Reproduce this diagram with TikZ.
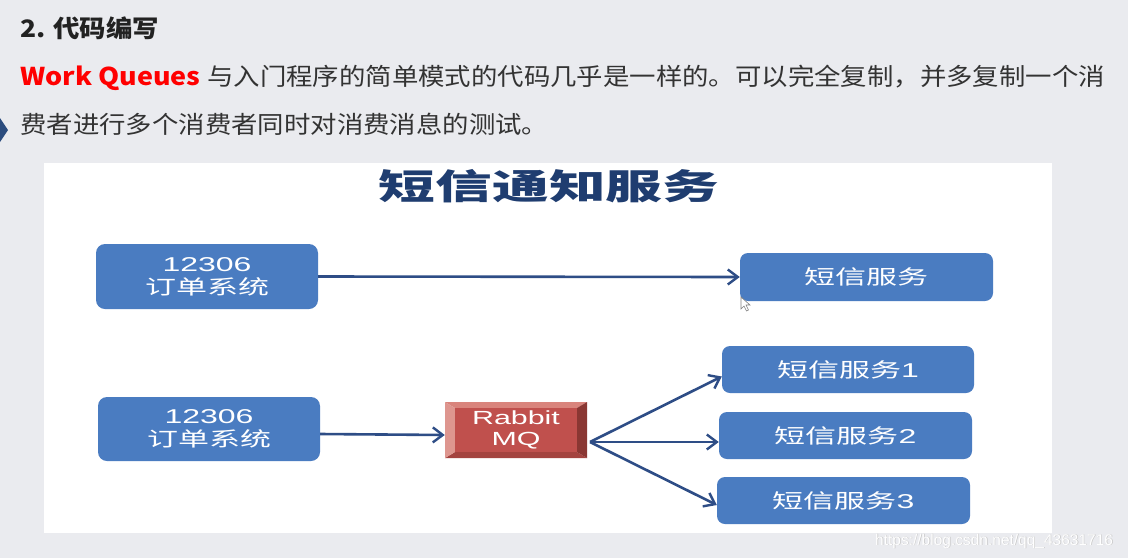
\documentclass[tikz,border=0pt]{standalone}
\usepackage{fontspec}
\usetikzlibrary{arrows.meta}
\newfontfamily\cjkh[FakeStretch=1.1]{Noto Sans CJK SC}
\newfontfamily\cjkd[FakeStretch=1.55]{Noto Sans CJK SC}
\newfontfamily\cjkt[FakeStretch=1.62]{Noto Sans CJK SC}
\newfontfamily\latd[FakeStretch=1.6]{Liberation Sans}
\newfontfamily\wmfont{Liberation Sans}
\definecolor{pagebg}{HTML}{EAEBEF}
\definecolor{boxblue}{HTML}{4A7CC1}
\definecolor{arrowblue}{HTML}{2E4D86}
\definecolor{titleblue}{HTML}{1F3D70}
\definecolor{headtxt}{HTML}{222222}
\definecolor{bodytxt}{HTML}{333333}
\definecolor{mqface}{HTML}{C0504D}
\definecolor{mqtop}{HTML}{D9847C}
\definecolor{mqleft}{HTML}{DE968F}
\definecolor{mqright}{HTML}{8A3733}
\definecolor{mqbottom}{HTML}{A4433F}
\definecolor{marker}{HTML}{2B4C7E}
\tikzset{
  txt/.style={inner sep=0pt, anchor=base west},
  bluebox/.style={fill=boxblue, rounded corners=9pt, text=white, inner sep=0pt, align=center,
    font=\fontsize{20}{23}\selectfont},
  conn/.style={draw=arrowblue, line width=2.6pt, -{Straight Barb[length=10pt,width=15pt,line width=2.4pt]}},
}
\begin{document}
\begin{tikzpicture}[x=1pt,y=-1pt]
\useasboundingbox (0,0) rectangle (1128,558);
\fill[pagebg] (0,0) rectangle (1128,558);
% heading and paragraph
\node[txt, text=headtxt] (h) at (20,37) {\cjkh\fontsize{24}{28}\selectfont\bfseries 2. 代码编写};
\node[txt, text=red] (wq) at (20,85) {\cjkh\fontsize{24.5}{28}\selectfont\bfseries Work Queues};
\node[txt, text=bodytxt] (p1) at (207,85) {\cjkh\fontsize{24}{28}\selectfont 与入门程序的简单模式的代码几乎是一样的。可以完全复制，并多复制一个消};
\node[txt, text=bodytxt] (p2) at (20,133) {\cjkh\fontsize{24}{28}\selectfont 费者进行多个消费者同时对消费消息的测试。};
\fill[marker] (0,118) -- (8,130) -- (0,142) -- cycle;
% white panel
\fill[white] (44,163) rectangle (1052,533);
% title
\node[inner sep=0pt, text=titleblue] (title) at (549,186) {\cjkt\fontsize{35}{40}\selectfont\bfseries 短信通知服务};
% boxes
\node[bluebox, minimum width=222pt, minimum height=65pt] (A1) at (207,276.5)
  {{\latd 12306}\\{\cjkd 订单系统}};
\node[bluebox, minimum width=253pt, minimum height=48pt, rounded corners=8pt] (S0) at (866.5,277)
  {\cjkd 短信服务};
\node[bluebox, minimum width=222pt, minimum height=64pt] (A2) at (209,429)
  {{\latd 12306}\\{\cjkd 订单系统}};
\node[bluebox, minimum width=252pt, minimum height=47pt, rounded corners=8pt] (S1) at (848,369.5)
  {{\cjkd 短信服务}{\latd 1}};
\node[bluebox, minimum width=253pt, minimum height=47pt, rounded corners=8pt] (S2) at (845.5,435.5)
  {{\cjkd 短信服务}{\latd 2}};
\node[bluebox, minimum width=253pt, minimum height=47pt, rounded corners=8pt] (S3) at (843.5,500.5)
  {{\cjkd 短信服务}{\latd 3}};
% RabbitMQ beveled box
\fill[mqtop] (445,402) -- (587,402) -- (577,408) -- (455,408) -- cycle;
\fill[mqbottom] (445,458) -- (587,458) -- (577,452) -- (455,452) -- cycle;
\fill[mqleft] (445,402) -- (455,408) -- (455,452) -- (445,458) -- cycle;
\fill[mqright] (587,402) -- (577,408) -- (577,452) -- (587,458) -- cycle;
\node[fill=mqface, minimum width=122pt, minimum height=44pt, inner sep=0pt, text=white, align=center,
  font=\latd\fontsize{19}{21}\selectfont] (MQ) at (516,430)
  {Rabbit\\MQ};
% connectors
\draw[conn] (A1.east) -- (S0.west);
\draw[conn] ([yshift=-5pt]A2.east) -- ([xshift=-10pt,yshift=-5pt]MQ.west);
\coordinate (fan) at (590,442);
\draw[conn] (fan) -- ([yshift=-7pt]S1.west);
\draw[conn] (fan) -- ([yshift=-6.5pt]S2.west);
\draw[conn] (fan) -- ([yshift=-4.5pt]S3.west);
% cursor
\draw[gray, fill=white, line width=0.6pt] (741,297) -- (741,309) -- (744,306) -- (746.5,311) -- (748.5,310) -- (746,305) -- (750,305) -- cycle;
% watermark
\node[txt, text=gray!45] (wm0) at (875.6,545.6) {\wmfont\fontsize{15.5}{18}\selectfont https://blog.csdn.net/qq\_43631716};
\node[txt, text=white] (wm) at (875,545) {\wmfont\fontsize{15.5}{18}\selectfont https://blog.csdn.net/qq\_43631716};
\end{tikzpicture}
\end{document}
